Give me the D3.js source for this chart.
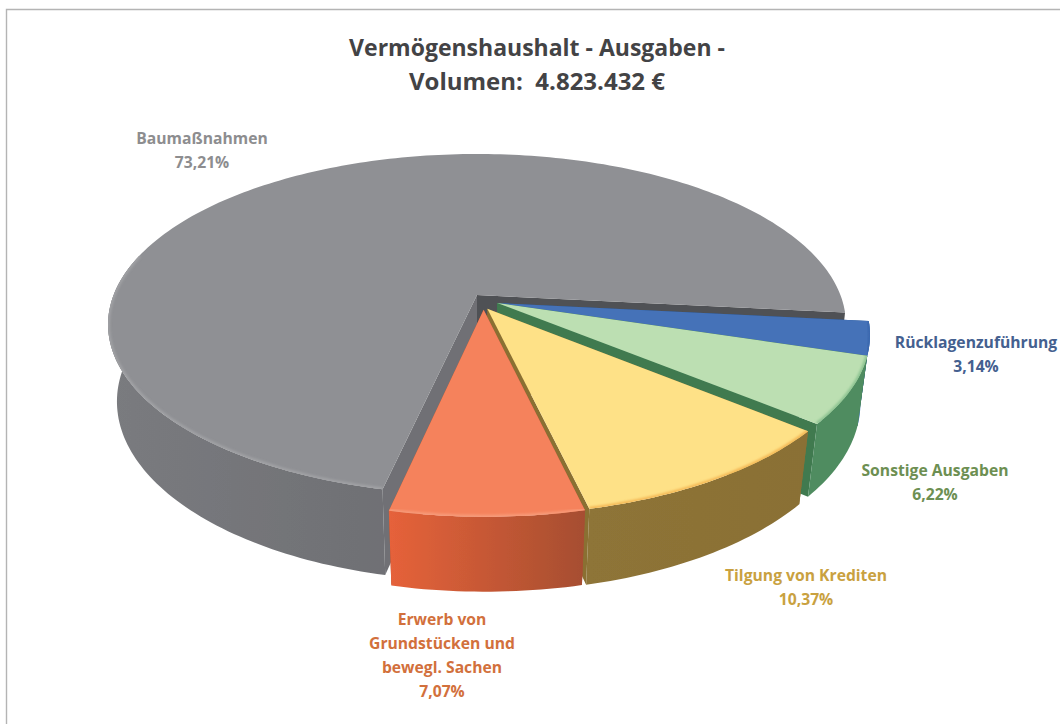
<!DOCTYPE html>
<html><head><meta charset="utf-8">
<script src="https://cdn.jsdelivr.net/npm/d3@7"></script>
<style>html,body{margin:0;padding:0;background:#fff}svg{display:block}</style>
</head><body><div id="c"></div>
<script>
const titleLines = ["Vermögenshaushalt - Ausgaben -", "Volumen:  4.823.432 €"];
const categories = ["Rücklagenzuführung", "Sonstige Ausgaben", "Tilgung von Krediten", "Erwerb von Grundstücken und bewegl. Sachen", "Baumaßnahmen"];
const shares = [3.14, 6.22, 10.37, 7.07, 73.21];
const labelLines = [["Rücklagenzuführung"], ["Sonstige Ausgaben"], ["Tilgung von Krediten"], ["Erwerb von", "Grundstücken und", "bewegl. Sachen"], ["Baumaßnahmen"]];

// styles and layout
const topColors = ["#4472b8", "#bcdfb2", "#fee187", "#f5825c", "#8f9094"];
const rimColors = ["#3a68ae", "#8fc593", "#f4b957", "#f79a78", "#a0a1a4"];
const wallFrom  = ["#1d5cab", "#4f8c60", "#8e7437", "#e6623a", "#7a7b7f"];
const wallTo    = ["#1d5cab", "#4f8c60", "#8a7035", "#a64e30", "#6f7074"];
const cutWall   = ["#22508f", "#3f7a50", "#8a6f33", "#a64e30", "#6f7074"];
const textColors = ["#44608f", "#6d8f52", "#c9a140", "#d2703c", "#8d8d8f"];
const titleSizes = [23, 24];
const labelAnchors = [[976, 348], [935, 476], [806, 581], [442, 625], [202, 144]];
const explode = [[0.055, 0.048], [0.055, 0.048], [0.028, 0.082], [0.018, 0.088], [0, 0]];
const depths = [69, 69, 69, 68, 78];

const W = 1060, H = 724;
const apex = [477, 295], spanX = 363.4, spanY = 165.4, persp = 0.173, taper = 0.024;
const startDeg = 6;
// unit circle plane to screen
const sx = d3.scaleLinear().domain([0, 1]).range([0, spanX]);
const sy = d3.scaleLinear().domain([0, 1]).range([0, spanY]);
function proj(i, X, Y, Z) {
  const den = 1 - persp * Y + taper * Z;
  return [apex[0] + sx(X) / den, apex[1] + (sy(Y) + depths[i] * Z) / den];
}
const line = d3.line();
const pieLayout = d3.pie().sort(null).value(d => d)
  .startAngle(Math.PI / 2 + startDeg * Math.PI / 180)
  .endAngle(Math.PI / 2 + startDeg * Math.PI / 180 + 2 * Math.PI);
const arcs = pieLayout(shares);

const svg = d3.select("#c").append("svg").attr("width", W).attr("height", H)
  .attr("viewBox", [0, 0, W, H]);
const defs = svg.append("defs");
const soft = defs.append("filter").attr("id", "soft").attr("x", "-2%").attr("y", "-2%").attr("width", "104%").attr("height", "104%");
soft.append("feGaussianBlur").attr("stdDeviation", 0.55);
const softer = defs.append("filter").attr("id", "rim").attr("x", "-5%").attr("y", "-20%").attr("width", "110%").attr("height", "140%");
softer.append("feGaussianBlur").attr("stdDeviation", 1.1);
shares.forEach((_, i) => {
  const g = defs.append("linearGradient").attr("id", "wall" + i);
  g.append("stop").attr("offset", 0).attr("stop-color", wallFrom[i]);
  g.append("stop").attr("offset", 1).attr("stop-color", wallTo[i]);
  const cp = defs.append("clipPath").attr("id", "clip" + i);
  cp.append("path").attr("d", topPath(i));
});

svg.append("path").attr("d", `M6.5 724V9.5H1060`).attr("fill", "none").attr("stroke", "#b4b4b4").attr("stroke-width", 1.4);

function angle(a) { return a - Math.PI / 2; }
function rimPoints(i, a0, a1, z) {
  const [ox, oy] = explode[i];
  const n = Math.max(4, Math.ceil((a1 - a0) / 0.02));
  return d3.range(n + 1).map(k => {
    const t = angle(a0 + (a1 - a0) * k / n);
    return proj(i, ox + Math.cos(t), oy + Math.sin(t), z);
  });
}
function topPath(i) {
  const a = arcs[i], [ox, oy] = explode[i];
  return line([proj(i, ox, oy, 0), ...rimPoints(i, a.startAngle, a.endAngle, 0)]) + "Z";
}
function outerWall(i, a0, a1) {
  return line([...rimPoints(i, a0, a1, 0), ...rimPoints(i, a0, a1, 1).reverse()]) + "Z";
}
function cutPath(i, a) {
  const [ox, oy] = explode[i], t = angle(a);
  const c = [ox, oy], e = [ox + Math.cos(t), oy + Math.sin(t)];
  return line([proj(i, c[0], c[1], 0), proj(i, e[0], e[1], 0), proj(i, e[0], e[1], 1), proj(i, c[0], c[1], 1)]) + "Z";
}

const pieG = svg.append("g").attr("filter", "url(#soft)");
// paint from the back slice to the front slice
[4, 0, 1, 2, 3].forEach(i => {
  const a = arcs[i], g = pieG.append("g");
  // cut faces
  g.append("path").attr("d", cutPath(i, a.startAngle)).attr("fill", cutWall[i]);
  g.append("path").attr("d", cutPath(i, a.endAngle)).attr("fill", i === 4 ? "#505154" : cutWall[i]);
  // outer wall, front half only (plane angle 0..180 deg lies towards the viewer)
  const front0 = Math.max(a.startAngle, Math.PI / 2 - 0.12);
  const front1 = Math.min(a.endAngle, Math.PI * 1.5 + 0.25);
  g.append("path").attr("d", outerWall(i, front0, front1)).attr("fill", `url(#wall${i})`);
  // top face
  g.append("path").attr("d", topPath(i)).attr("fill", topColors[i]);
  // soft bevel on the front rim
  g.append("path").attr("d", line(rimPoints(i, front0, front1, 0)))
    .attr("clip-path", `url(#clip${i})`)
    .attr("fill", "none").attr("stroke", rimColors[i]).attr("stroke-width", 4).attr("filter", "url(#rim)");
});

const fontFamily = "'Open Sans','Noto Sans',sans-serif";
svg.append("g").selectAll("text").data(titleLines).join("text")
  .attr("x", 537).attr("y", (d, i) => 56 + i * 34)
  .attr("text-anchor", "middle")
  .style("white-space", "pre")
  .attr("font-family", fontFamily).attr("font-weight", 700).attr("font-size", (d, i) => titleSizes[i])
  .attr("fill", "#434345").text(d => d);

const fmt = v => v.toFixed(2).replace(".", ",") + "%";
categories.forEach((c, i) => {
  const lines = [...labelLines[i], fmt(shares[i])];
  svg.append("g").selectAll("text").data(lines).join("text")
    .attr("x", labelAnchors[i][0]).attr("y", (d, k) => labelAnchors[i][1] + k * 24)
    .attr("text-anchor", "middle")
    .attr("font-family", fontFamily).attr("font-weight", 700).attr("font-size", 15.7)
    .attr("fill", textColors[i]).text(d => d);
});
</script></body></html>
